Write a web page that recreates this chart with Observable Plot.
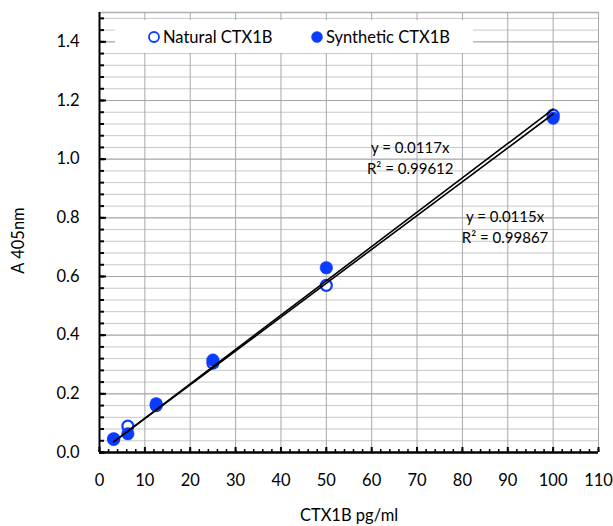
<!DOCTYPE html>
<html>
<head>
<meta charset="utf-8">
<script src="https://cdn.jsdelivr.net/npm/d3@7"></script>
<script src="https://cdn.jsdelivr.net/npm/@observablehq/plot@0.6"></script>
<style>
  html, body { margin: 0; padding: 0; background: #fff; }
  #wrap { position: relative; width: 613px; height: 526px; font-family: Lato, "Open Sans", sans-serif; }
  #legend { position: absolute; left: 115px; top: 20px; width: 358px; height: 33px; background: #fff;
            font-size: 16.5px; color: #000; }
  #legend .item { display: flex; align-items: center; position: absolute; top: 0; height: 33px; }
  #legend svg { margin-right: 2px; }
</style>
</head>
<body>
<div id="wrap"></div>
<script>
// ---- data ----
const concentrations = [3.125, 6.25, 12.5, 25, 50, 100];   // CTX1B pg/ml
const naturalA405   = [0.045, 0.09, 0.16, 0.305, 0.57, 1.15];
const syntheticA405 = [0.047, 0.064, 0.166, 0.315, 0.63, 1.14];
const seriesNames = ["Natural CTX1B", "Synthetic CTX1B"];
const fitTexts = ["y = 0.0117x\nR² = 0.99612", "y = 0.0115x\nR² = 0.99867"];
const fitTextAt = [[68.5, 1.008], [89.4, 0.773]];          // data units
const xTicks = [0, 10, 20, 30, 40, 50, 60, 70, 80, 90, 100, 110];
const yTicks = [0, 0.2, 0.4, 0.6, 0.8, 1.0, 1.2, 1.4];
const xTitle = "CTX1B pg/ml";
const yTitle = "A 405nm";

// ---- derived ----
const natural = concentrations.map((x, i) => ({x, y: naturalA405[i]}));
const synthetic = concentrations.map((x, i) => ({x, y: syntheticA405[i]}));
const slopeThroughOrigin = pts => d3.sum(pts, p => p.x * p.y) / d3.sum(pts, p => p.x * p.x);
const xExtent = d3.extent(concentrations);
const fitLine = (pts, name) => xExtent.map(x => ({x, y: slopeThroughOrigin(pts) * x, name}));
const fits = [...fitLine(natural, seriesNames[0]), ...fitLine(synthetic, seriesNames[1])];
const labels = fitTexts.map((t, i) => ({t, x: fitTextAt[i][0], y: fitTextAt[i][1]}));
const xMinor = d3.range(0, 110.001, 2);
const yMinor = d3.range(0, 1.4801, 0.04);

const FONT = "Lato, 'Open Sans', sans-serif";
const BLUE = "#0a3cff";

const chart = Plot.plot({
  width: 613,
  height: 526,
  marginLeft: 99,
  marginRight: 15,
  marginTop: 12,
  marginBottom: 74,
  style: {fontFamily: FONT, fontSize: "16px", color: "#000", background: "#fff"},
  x: {domain: [0, 110], ticks: xTicks},
  y: {domain: [0, 1.5], ticks: yTicks},
  marks: [
    Plot.ruleY(yMinor, {stroke: "#c8c8c8", strokeWidth: 1}),
    Plot.ruleY(yTicks, {stroke: "#a8a8a8", strokeWidth: 1}),
    Plot.ruleY([1.5], {stroke: "#b0b0b0", strokeWidth: 1.5}),
    Plot.ruleX(xTicks, {stroke: "#a8a8a8", strokeWidth: 1}),
    // axes lines
    Plot.ruleX([0], {stroke: "#000", strokeWidth: 2}),
    Plot.ruleY([0], {stroke: "#000", strokeWidth: 2.5}),
    // ticks
    Plot.axisY({ticks: yMinor, tickSize: -5, tickFormat: () => "", label: null, strokeWidth: 2}),
    Plot.axisY({ticks: yTicks, tickSize: -7, tickFormat: () => "", label: null, strokeWidth: 2}),
    Plot.axisY({ticks: yTicks, tickSize: 0, tickPadding: 20, tickFormat: d3.format(".1f"), label: null, fontSize: 16.5}),
    Plot.axisX({ticks: xMinor, tickSize: -3, tickFormat: () => "", label: null, strokeWidth: 1.5}),
    Plot.axisX({ticks: xTicks, tickSize: -5, tickFormat: () => "", label: null, strokeWidth: 2}),
    Plot.axisX({ticks: xTicks, tickSize: 0, tickPadding: 22, tickFormat: d3.format("d"), label: null, fontSize: 16.5}),
    // data
    Plot.dot(natural, {x: "x", y: "y", r: 5.5, fill: "#fff", stroke: BLUE, strokeWidth: 2.2}),
    Plot.dot(synthetic, {x: "x", y: "y", r: 6.3, fill: BLUE, stroke: BLUE, strokeWidth: 0.5}),
    Plot.line(fits, {x: "x", y: "y", z: "name", stroke: "#000", strokeWidth: 1.6}),
    Plot.text(labels, {x: "x", y: "y", text: "t", fontSize: 15, lineHeight: 1.42, fill: "#000"}),
    // titles
    Plot.text([yTitle], {frameAnchor: "left", textAnchor: "middle", dx: -81, dy: 8, rotate: -90, fontSize: 16.5, fill: "#000"}),
    Plot.text([xTitle], {frameAnchor: "bottom", textAnchor: "middle", dy: 68, fontSize: 16.5, fill: "#000"})
  ]
});

const wrap = document.getElementById("wrap");
wrap.appendChild(chart);

// legend (inside plot area)
const legend = document.createElement("div");
legend.id = "legend";
const items = [
  {name: seriesNames[0], left: 32, open: true},
  {name: seriesNames[1], left: 195, open: false}
];
for (const it of items) {
  const d = document.createElement("div");
  d.className = "item";
  d.style.left = it.left + "px";
  d.innerHTML = `<svg width="14" height="14"><circle cx="7" cy="7" r="${it.open ? 5 : 5.5}" fill="${it.open ? "#fff" : BLUE}" stroke="${BLUE}" stroke-width="${it.open ? 1.8 : 0.5}"/></svg><span>${it.name}</span>`;
  legend.appendChild(d);
}
wrap.appendChild(legend);
</script>
</body>
</html>
